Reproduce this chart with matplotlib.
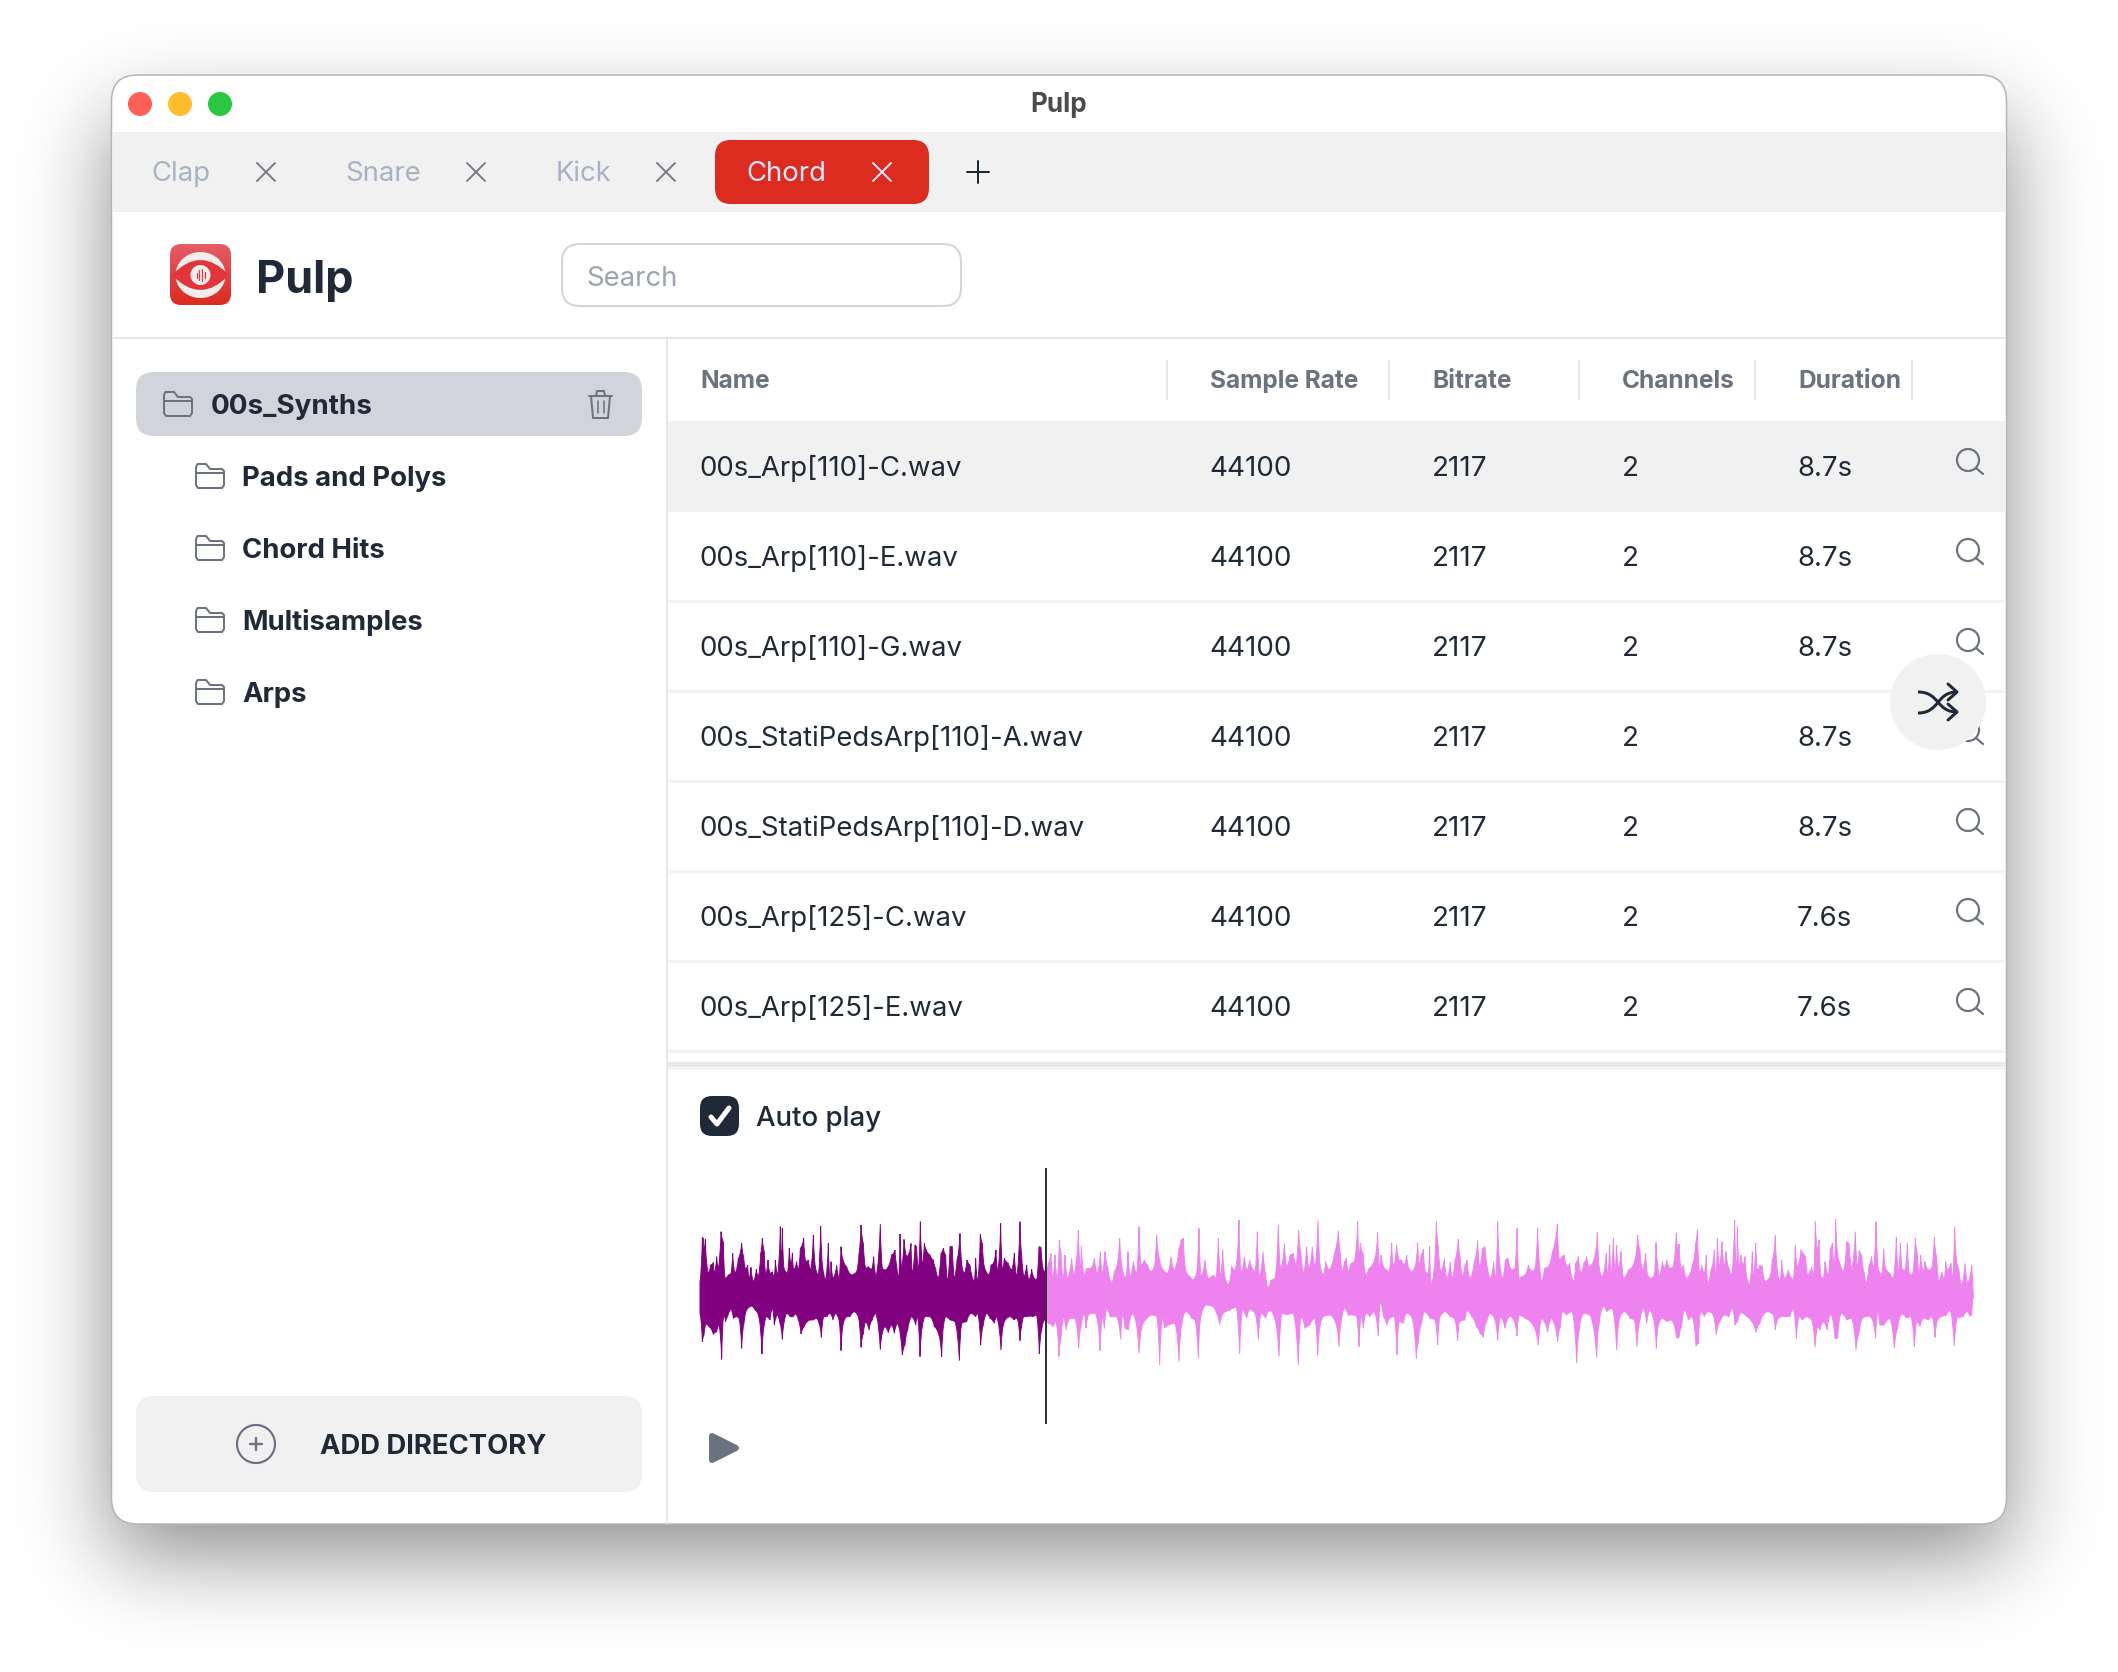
import math
import numpy as np
import matplotlib
matplotlib.use('Agg')
import matplotlib.pyplot as plt
from matplotlib.patches import FancyBboxPatch, Circle, Ellipse, Polygon, PathPatch, Rectangle
from matplotlib.path import Path

W, H = 2118, 1672
DPI = 100

plt.rcParams['font.family'] = ['Inter', 'DejaVu Sans']

tab_names = ['Clap', 'Snare', 'Kick', 'Chord']
folder_names = ['Pads and Polys', 'Chord Hits', 'Multisamples', 'Arps']
column_names = ['Name', 'Sample Rate', 'Bitrate', 'Channels', 'Duration']
file_names = ['00s_Arp[110]-C.wav', '00s_Arp[110]-E.wav', '00s_Arp[110]-G.wav',
              '00s_StatiPedsArp[110]-A.wav', '00s_StatiPedsArp[110]-D.wav',
              '00s_Arp[125]-C.wav', '00s_Arp[125]-E.wav']
sample_rates = [44100, 44100, 44100, 44100, 44100, 44100, 44100]
bitrates = [2117, 2117, 2117, 2117, 2117, 2117, 2117]
channels = [2, 2, 2, 2, 2, 2, 2]
durations = ['8.7s', '8.7s', '8.7s', '8.7s', '8.7s', '7.6s', '7.6s']

# waveform envelope: time and level per stretch of the clip
seg1_up_t = [15, 22, 25, 28, 31, 35, 40, 47, 55, 58, 65, 70, 78, 85, 90, 100, 108, 113, 120, 130, 140, 146, 152, 158, 162, 168, 175, 184, 190, 197, 202, 208, 212, 219, 225, 232, 238, 241, 248, 256, 259, 262, 267, 277, 283, 288, 292, 296, 305, 310, 316, 326, 332, 340, 347, 355, 362, 370, 377, 383, 392, 400, 405, 408, 414, 425, 432, 438, 443, 455, 470, 485, 492, 498, 505, 512, 520, 530, 536, 543, 556, 562, 572, 590, 600, 605, 611, 615, 620, 627, 635, 642, 648, 652, 660, 665, 670, 676, 682, 688, 694, 705, 715, 722, 730, 738, 745, 752, 758, 765, 772, 778, 786, 795, 802, 808, 816, 825, 838, 842, 848, 856, 862, 868, 882, 888, 895, 903, 908, 917, 922, 928, 940, 950, 958, 965]
seg1_up_y = [215, 82, 85, 120, 88, 155, 190, 165, 158, 190, 140, 175, 65, 95, 205, 195, 190, 130, 190, 145, 100, 140, 178, 165, 205, 172, 215, 178, 200, 130, 85, 125, 195, 150, 190, 185, 200, 150, 195, 50, 150, 55, 175, 190, 115, 165, 130, 180, 155, 180, 115, 85, 155, 150, 180, 75, 175, 195, 48, 170, 210, 100, 210, 155, 205, 165, 205, 110, 145, 170, 195, 185, 130, 45, 100, 175, 170, 178, 140, 200, 42, 175, 180, 135, 120, 165, 205, 72, 175, 88, 140, 130, 100, 190, 105, 110, 180, 35, 165, 100, 120, 135, 150, 175, 205, 130, 115, 135, 215, 110, 110, 205, 150, 70, 175, 190, 150, 165, 215, 145, 215, 72, 100, 170, 195, 165, 160, 120, 185, 40, 180, 145, 160, 180, 130, 200]
seg1_dn_t = [15, 22, 27, 33, 42, 55, 65, 72, 80, 86, 92, 98, 108, 115, 125, 132, 140, 147, 155, 170, 180, 190, 201, 207, 214, 225, 232, 238, 247, 255, 262, 268, 275, 285, 295, 302, 310, 318, 328, 337, 345, 355, 365, 372, 379, 386, 396, 405, 414, 422, 432, 438, 444, 455, 465, 478, 490, 498, 505, 512, 522, 532, 542, 556, 562, 570, 580, 590, 598, 608, 622, 630, 638, 650, 662, 668, 675, 682, 690, 705, 718, 730, 740, 746, 752, 765, 780, 793, 800, 815, 828, 842, 848, 857, 865, 875, 885, 898, 905, 918, 925, 935, 945, 957, 965]
seg1_dn_y = [310, 395, 375, 342, 350, 373, 365, 345, 448, 315, 335, 320, 298, 325, 320, 325, 415, 340, 300, 288, 300, 315, 432, 350, 320, 330, 295, 345, 315, 340, 388, 335, 310, 320, 320, 312, 330, 372, 350, 335, 330, 330, 325, 340, 382, 320, 320, 310, 330, 310, 330, 422, 345, 320, 320, 305, 320, 412, 372, 335, 360, 330, 310, 418, 370, 350, 368, 345, 370, 340, 435, 405, 360, 320, 345, 320, 440, 350, 320, 320, 350, 370, 440, 345, 320, 330, 335, 452, 340, 335, 310, 320, 310, 405, 345, 310, 325, 340, 320, 420, 345, 325, 320, 330, 325]

seg2_up_t = [15, 20, 27, 35, 42, 50, 58, 65, 72, 78, 85, 92, 100, 108, 113, 120, 127, 133, 138, 144, 150, 157, 170, 177, 184, 190, 196, 199, 207, 215, 228, 238, 248, 256, 262, 270, 278, 290, 298, 306, 314, 322, 332, 339, 345, 355, 365, 372, 378, 388, 398, 408, 418, 425, 432, 445, 458, 468, 478, 492, 498, 505, 512, 525, 535, 545, 552, 558, 570, 580, 595, 603, 610, 617, 623, 630, 640, 650, 660, 665, 672, 678, 688, 696, 704, 712, 720, 727, 733, 744, 752, 758, 768, 780, 790, 797, 808, 815, 825, 835, 843, 851, 858, 865, 875, 882, 892, 900, 909, 916, 925, 932, 942, 950, 958]
seg2_up_y = [35, 135, 200, 165, 210, 178, 205, 210, 110, 112, 180, 185, 160, 130, 205, 135, 205, 90, 130, 205, 135, 205, 145, 195, 150, 60, 180, 110, 195, 175, 175, 145, 190, 125, 190, 125, 170, 220, 185, 165, 85, 175, 205, 125, 200, 155, 190, 50, 165, 150, 165, 185, 170, 75, 140, 180, 190, 140, 180, 115, 90, 85, 180, 200, 210, 190, 55, 200, 150, 205, 195, 205, 85, 200, 120, 200, 225, 170, 180, 155, 30, 190, 140, 180, 150, 175, 185, 65, 200, 125, 190, 235, 210, 205, 45, 180, 100, 170, 135, 130, 165, 60, 130, 190, 110, 175, 110, 170, 32, 170, 195, 155, 180, 165, 130]
seg2_dn_t = [8, 15, 20, 26, 35, 45, 55, 65, 73, 80, 88, 100, 115, 123, 132, 138, 146, 153, 165, 180, 191, 198, 208, 213, 222, 240, 248, 255, 262, 268, 275, 285, 305, 317, 323, 330, 340, 352, 360, 372, 380, 392, 410, 425, 434, 442, 448, 462, 480, 492, 500, 512, 530, 540, 550, 556, 572, 590, 605, 614, 625, 645, 664, 674, 682, 695, 705, 720, 730, 738, 752, 765, 780, 792, 800, 815, 835, 850, 858, 870, 885, 900, 908, 916, 925, 945, 962]
seg2_dn_y = [330, 392, 350, 320, 320, 318, 320, 315, 432, 360, 330, 340, 350, 335, 440, 385, 322, 360, 325, 325, 415, 350, 310, 355, 312, 310, 335, 422, 320, 355, 295, 320, 320, 388, 312, 355, 360, 310, 325, 430, 355, 330, 315, 318, 465, 320, 355, 345, 340, 455, 345, 305, 325, 330, 445, 330, 285, 288, 310, 345, 310, 300, 292, 432, 300, 325, 298, 310, 388, 310, 325, 300, 330, 440, 310, 315, 310, 465, 320, 355, 345, 325, 435, 345, 320, 315, 340]

seg3_up_t = [10, 16, 22, 28, 34, 40, 48, 58, 68, 72, 76, 84, 92, 102, 112, 120, 128, 134, 138, 146, 155, 162, 170, 175, 185, 192, 200, 208, 215, 222, 230, 240, 248, 253, 258, 265, 271, 280, 284, 288, 296, 304, 310, 317, 328, 336, 346, 352, 360, 370, 376, 382, 390, 396, 405, 418, 428, 434, 442, 450, 458, 466, 476, 482, 488, 494, 503, 511, 519, 530, 540, 546, 552, 560, 570, 580, 592, 600, 608, 614, 620, 628, 640, 652, 660, 667, 673, 680, 688, 696, 704, 716, 722, 730, 738, 746, 755, 762, 772, 780, 787, 794, 802, 814, 818, 824, 828, 835, 840, 845, 850, 858, 866, 880, 888, 898, 908, 915, 922, 932, 938, 948, 958]
seg3_up_y = [62, 130, 185, 155, 145, 185, 160, 155, 35, 140, 100, 130, 195, 175, 165, 145, 68, 175, 135, 170, 180, 185, 100, 170, 105, 150, 150, 165, 135, 175, 185, 170, 98, 165, 135, 118, 185, 190, 108, 225, 190, 35, 110, 185, 145, 205, 155, 205, 150, 88, 145, 200, 165, 150, 205, 155, 92, 170, 115, 110, 175, 205, 155, 205, 35, 155, 205, 150, 145, 180, 175, 55, 205, 200, 195, 165, 185, 175, 55, 165, 215, 175, 170, 125, 95, 42, 150, 140, 135, 170, 160, 215, 160, 140, 190, 160, 140, 170, 160, 135, 68, 180, 200, 130, 195, 105, 190, 85, 180, 105, 175, 125, 205, 180, 175, 155, 75, 120, 180, 130, 195, 205, 195]
seg3_dn_t = [12, 18, 28, 40, 55, 65, 72, 78, 85, 93, 105, 118, 130, 136, 145, 155, 168, 178, 186, 192, 205, 215, 230, 244, 250, 260, 268, 285, 300, 308, 315, 330, 345, 358, 368, 374, 390, 396, 410, 424, 435, 445, 455, 466, 478, 488, 496, 510, 525, 538, 546, 552, 570, 590, 610, 620, 638, 650, 668, 676, 682, 695, 712, 725, 732, 745, 765, 785, 792, 805, 815, 832, 845, 855, 868, 885, 898, 906, 915, 925, 935, 945, 955]
seg3_dn_y = [410, 340, 295, 315, 315, 320, 410, 320, 355, 310, 320, 305, 378, 275, 320, 345, 322, 320, 435, 335, 340, 310, 320, 445, 395, 340, 305, 325, 330, 405, 320, 305, 320, 325, 392, 335, 330, 302, 320, 350, 370, 382, 335, 310, 325, 392, 320, 355, 318, 335, 378, 315, 325, 340, 405, 325, 365, 325, 395, 350, 305, 315, 305, 458, 365, 310, 315, 442, 345, 288, 305, 295, 420, 320, 305, 325, 330, 410, 330, 295, 340, 300, 325]

seg4_up_t = [3, 8, 12, 22, 28, 35, 45, 54, 64, 70, 72, 78, 85, 95, 105, 112, 122, 127, 134, 140, 148, 154, 158, 168, 178, 183, 187, 193, 201, 208, 213, 222, 230, 239, 244, 247, 252, 258, 264, 270, 276, 284, 292, 296, 302, 308, 314, 322, 330, 345, 352, 361, 367, 375, 380, 388, 400, 410, 415, 421, 426, 432, 438, 445, 452, 458, 470, 476, 481, 487, 492, 498, 505, 510, 520, 526, 532, 538, 542, 548, 555, 565, 575, 582, 590, 601, 607, 613, 620, 628, 634, 642, 650, 656, 663, 670, 680, 686, 692, 705, 715, 724, 730, 736, 742, 750, 757, 763, 772, 781, 787, 792, 797, 804, 810, 820, 830, 838, 845, 852, 860, 868, 872, 878, 888, 893, 899, 905, 912, 920, 930, 938, 950, 953, 955]
seg4_up_y = [98, 160, 200, 155, 175, 150, 175, 170, 68, 130, 102, 175, 165, 205, 190, 165, 100, 60, 190, 165, 190, 135, 222, 180, 120, 200, 85, 170, 95, 170, 125, 175, 195, 30, 190, 50, 170, 135, 165, 140, 205, 225, 125, 205, 100, 185, 165, 170, 215, 200, 150, 75, 180, 215, 150, 205, 180, 205, 210, 105, 170, 155, 120, 130, 140, 195, 170, 195, 35, 120, 90, 200, 205, 155, 195, 115, 100, 170, 28, 130, 160, 185, 95, 100, 175, 65, 170, 120, 135, 190, 220, 165, 140, 175, 35, 175, 195, 118, 175, 190, 205, 82, 190, 100, 180, 180, 100, 190, 195, 85, 130, 190, 135, 185, 155, 180, 175, 82, 140, 215, 185, 205, 155, 180, 160, 205, 52, 150, 180, 225, 160, 220, 165, 200, 255]
seg4_dn_t = [4, 10, 20, 35, 50, 65, 72, 80, 88, 100, 112, 123, 130, 137, 148, 158, 172, 184, 195, 208, 222, 233, 240, 248, 258, 275, 290, 303, 315, 325, 338, 355, 361, 370, 380, 390, 405, 415, 424, 432, 442, 455, 470, 480, 488, 495, 505, 516, 528, 540, 548, 558, 575, 590, 603, 612, 622, 640, 650, 662, 668, 675, 688, 705, 718, 728, 740, 755, 768, 778, 785, 795, 805, 820, 832, 840, 848, 860, 875, 885, 898, 906, 925, 935, 945, 950, 955]
seg4_dn_y = [415, 345, 325, 335, 330, 385, 382, 350, 300, 330, 320, 408, 400, 305, 320, 305, 310, 375, 335, 315, 320, 295, 345, 335, 308, 320, 335, 368, 340, 315, 305, 315, 360, 325, 320, 320, 320, 296, 385, 320, 330, 320, 330, 412, 350, 360, 335, 360, 312, 385, 385, 310, 330, 325, 420, 372, 325, 318, 325, 385, 305, 345, 345, 325, 415, 355, 312, 325, 320, 410, 335, 350, 325, 330, 320, 382, 330, 320, 315, 300, 408, 325, 320, 305, 318, 315, 260]

playhead_t = 1053
SEG_LEN = 960
WAVE_MID = 255


def px(v):
    return v * 72.0 / DPI


def label(ax, x, y, s, size, color, weight='normal', ha='left', zorder=5):
    ax.text(x, y, s, fontsize=px(size), color=color, fontweight=weight, ha=ha, va='baseline', zorder=zorder)


def box(ax, x0, y0, x1, y1, r, fc, ec='none', lw=0, zorder=2):
    p = FancyBboxPatch((x0 + r, y0 + r), x1 - x0 - 2 * r, y1 - y0 - 2 * r, boxstyle='round,pad=%f,rounding_size=%f' % (r, r),
                       fc=fc, ec=ec, lw=px(lw), zorder=zorder)
    ax.add_patch(p)
    return p


def stroke(ax, xs, ys, color, lw=2, zorder=4):
    ax.plot(xs, ys, color=color, lw=px(lw), solid_capstyle='round', solid_joinstyle='round', zorder=zorder)


def rule(ax, xs, ys, color, lw=2):
    ax.plot(xs, ys, color=color, lw=px(lw), solid_capstyle='butt', zorder=2)


def cross(ax, x, y, color, half=9):
    stroke(ax, [x - half, x + half], [y - half, y + half], color)
    stroke(ax, [x - half, x + half], [y + half, y - half], color)


def folder(ax, x, y, color='#6b7280'):
    verts = [(x, y + 3), (x + 1.5, y), (x + 10, y), (x + 14, y + 5), (x + 26, y + 5), (x + 28, y + 7), (x + 28, y + 21),
             (x + 26, y + 24), (x + 2, y + 24), (x, y + 21), (x, y + 3)]
    ax.add_patch(Polygon(verts, closed=True, fc='none', ec=color, lw=px(2), joinstyle='round', zorder=4))
    stroke(ax, [x, x + 28], [y + 9, y + 9], color)


def magnifier(ax, x, y, color='#6b7280', zorder=4):
    ax.add_patch(Circle((x, y), 11, fc='none', ec=color, lw=px(2.2), zorder=zorder))
    stroke(ax, [x + 8, x + 15], [y + 8, y + 14], color, 2.2, zorder)


def envelope_curves(ts, ys):
    # each edge bends a little towards the quieter end, so spikes stay thin
    verts, codes = [], []
    for i in range(len(ts) - 1):
        t0, y0, t1, y1 = ts[i], ys[i], ts[i + 1], ys[i + 1]
        if abs(y0 - WAVE_MID) > abs(y1 - WAVE_MID):
            ctrl = (t0 + (t1 - t0) * 0.3, y0 + (y1 - y0) * 0.8)
        else:
            ctrl = (t1 - (t1 - t0) * 0.3, y1 + (y0 - y1) * 0.8)
        verts += [ctrl, (t1, y1)]
        codes += [Path.CURVE3, Path.CURVE3]
    return verts, codes


fig = plt.figure(figsize=(W / DPI, H / DPI), dpi=DPI)
ax = fig.add_axes([0, 0, 1, 1])
ax.set_xlim(0, W)
ax.set_ylim(H, 0)
ax.axis('off')

# window drop shadow behind everything
erf = np.vectorize(math.erf)
xx = np.arange(W)
yy = np.arange(H)
sig = 62.0
ax_x = 0.5 * (erf((xx - 111) / sig) - erf((xx - 2006) / sig))
ax_y = 0.5 * (erf((yy - 118) / sig) - erf((yy - 1554) / sig))
shadow = 1.0 - 0.46 * np.outer(ax_y, ax_x)
ax.imshow(shadow, cmap='gray', vmin=0, vmax=1, extent=(0, W, H, 0), aspect='auto', zorder=0)
ax.set_xlim(0, W)
ax.set_ylim(H, 0)

box(ax, 111.5, 75, 2006.5, 1524, 26, 'white', '#b4b4b4', 1.5, zorder=1)

# title and tabs
for x, c in zip([140, 180, 220], ['#fe5f57', '#febc2e', '#28c840']):
    ax.add_patch(Ellipse((x, 104), 24, 24, fc=c, ec='none', zorder=3))
label(ax, 1059, 112, 'Pulp', 26, '#4b4b4b', 'bold', ha='center')
ax.add_patch(Rectangle((112.5, 132), 1893, 80, fc='#f1f1f1', ec='none', zorder=2))
tab_x = [151.5, 345, 556, 746]
cross_x = [266, 476, 666, 882]
box(ax, 715, 140, 929, 204, 16, '#dc2b1f', zorder=3)
for i in range(len(tab_names)):
    active = tab_names[i] == 'Chord'
    label(ax, tab_x[i], 181, tab_names[i], 27.5, '#e5e7ff' if active else '#a9b2c3')
    cross(ax, cross_x[i], 172, '#e5e7ff' if active else '#7b8088')
stroke(ax, [967, 989], [172, 172], '#1f2937')
stroke(ax, [978, 978], [161, 183], '#1f2937')

# logo and search
logo = box(ax, 170, 244, 231, 305, 11, 'none', zorder=3)
grad = ax.imshow(np.linspace(0, 1, 64).reshape(-1, 1), cmap=matplotlib.colors.LinearSegmentedColormap.from_list('lg', ['#e35d68', '#dc2b1f']),
                 extent=(170, 231, 305, 244), aspect='auto', zorder=3)
grad.set_clip_path(logo)
ax.set_xlim(0, W)
ax.set_ylim(H, 0)
ax.add_patch(Ellipse((200.5, 275), 50, 46, fc='#f3ecec', ec='none', zorder=4))
lens = Path([(172, 275), (200.5, 245), (229, 275), (200.5, 305), (172, 275)],
            [Path.MOVETO, Path.CURVE3, Path.CURVE3, Path.CURVE3, Path.CURVE3])
ax.add_patch(PathPatch(lens, fc='#e0353a', ec='none', zorder=4))
ax.add_patch(Circle((200.5, 275), 10, fc='#f3ecec', ec='none', zorder=4))
for dx, hh in zip([-4, -1.3, 1.3, 4], [2.5, 5, 6, 3]):
    stroke(ax, [200.5 + dx, 200.5 + dx], [275 - hh, 275 + hh], '#dc3a3f', 1.2, zorder=5)
label(ax, 256, 293, 'Pulp', 45, '#1f2937', 'bold')
box(ax, 562, 244, 961, 306, 18, 'white', '#d1d5db', 2)
label(ax, 586, 286, 'Search', 27.5, '#9ca3af')

rule(ax, [112, 2006], [338, 338], '#e5e7eb')
rule(ax, [667, 667], [338, 1524], '#e5e7eb')

# sidebar
box(ax, 136, 372, 642, 436, 18, '#d1d5db')
folder(ax, 164, 392)
label(ax, 210.5, 414, '00s_Synths', 27.8, '#1f2937', 'bold')
stroke(ax, [589, 612], [396, 396], '#6b7280')
stroke(ax, [596, 597, 604, 605], [396, 391, 391, 396], '#6b7280')
ax.add_patch(Polygon([(591, 396), (593, 418), (608, 418), (610, 396)], closed=True, fc='none', ec='#6b7280', lw=px(2), joinstyle='round', zorder=4))
stroke(ax, [597.5, 597.5], [401, 413], '#6b7280', 1.6)
stroke(ax, [603.5, 603.5], [401, 413], '#6b7280', 1.6)
for i in range(len(folder_names)):
    folder(ax, 196, 464 + 72 * i)
    label(ax, 242.5, 486 + 72 * i, folder_names[i], 27.5, '#1f2937', 'bold')

box(ax, 136, 1396, 642, 1492, 18, '#f1f1f1')
ax.add_patch(Circle((256, 1444), 19, fc='none', ec='#6b7280', lw=px(2.2), zorder=4))
stroke(ax, [250, 262], [1444, 1444], '#6b7280', 2.4)
stroke(ax, [256, 256], [1438, 1450], '#6b7280', 2.4)
label(ax, 319.5, 1454, 'ADD DIRECTORY', 27.5, '#1f2937', 'bold')

# table
col_x = [700, 1210, 1432, 1622, 1798]
for x, name in zip(col_x, column_names):
    label(ax, x, 388, name, 24.5, '#6b7280', 'bold')
for x in [1167, 1389, 1579, 1755, 1912]:
    rule(ax, [x, x], [360, 400], '#e5e7eb')
ax.add_patch(Rectangle((668, 421), 1338, 91, fc='#f1f1f1', ec='none', zorder=2))
for i in range(len(file_names)):
    base = 476 + 90 * i
    label(ax, 699.5, base, file_names[i], 27.6, '#1f2937')
    label(ax, col_x[1] - 0.5, base, str(sample_rates[i]), 27.8, '#1f2937')
    label(ax, col_x[2], base, str(bitrates[i]), 27.8, '#1f2937')
    label(ax, col_x[3], base, str(channels[i]), 27.8, '#1f2937')
    label(ax, col_x[4] - 1, base, durations[i], 27.6, '#1f2937')
    magnifier(ax, 1968, 460 + 90 * i)
    if i > 0:
        rule(ax, [668, 2005], [511 + 90 * i, 511 + 90 * i], '#f1f1f1', 2.5)
for k, a in enumerate([0.12, 0.09, 0.065, 0.045, 0.03, 0.015]):
    rule(ax, [668, 2005], [1063 + k * 1.5, 1063 + k * 1.5], (0, 0, 0, a), 1.5)

# shuffle button
ax.add_patch(Circle((1938, 702), 48, fc='#f1f1f1', ec='none', zorder=6))
for ya, yb in [(692, 712), (713, 692)]:
    verts = [(1918, ya), (1940, ya), (1936, yb), (1957, yb)]
    ax.add_patch(PathPatch(Path(verts, [Path.MOVETO, Path.CURVE4, Path.CURVE4, Path.CURVE4]), fc='none', ec='#1f2937', lw=px(3), zorder=7))
stroke(ax, [1948, 1957, 1948], [684, 692, 700], '#1f2937', 3, 7)
stroke(ax, [1948, 1957, 1948], [704, 712, 720], '#1f2937', 3, 7)

# auto play
box(ax, 700, 1096, 739, 1136, 12, '#1f2937', zorder=3)
stroke(ax, [711, 717, 729], [1117, 1124, 1108], 'white', 5)
label(ax, 756, 1126, 'Auto play', 27.6, '#1f2937', 'medium')

# waveform
ax_wave = fig.add_axes([695 / W, 1 - 1380 / H, 1330 / W, 170 / H])
ax_wave.set_xlim(0, 3990)
ax_wave.set_ylim(510, 0)
ax_wave.axis('off')
up_t = np.concatenate([seg1_up_t, np.add(seg2_up_t, SEG_LEN), np.add(seg3_up_t, 2 * SEG_LEN), np.add(seg4_up_t, 3 * SEG_LEN)])
up_y = np.concatenate([seg1_up_y, seg2_up_y, seg3_up_y, seg4_up_y])
dn_t = np.concatenate([seg1_dn_t, np.add(seg2_dn_t, SEG_LEN), np.add(seg3_dn_t, 2 * SEG_LEN), np.add(seg4_dn_t, 3 * SEG_LEN)])
dn_y = np.concatenate([seg1_dn_y, seg2_dn_y, seg3_dn_y, seg4_dn_y])

top_verts, top_codes = envelope_curves(up_t, up_y)
low_verts, low_codes = envelope_curves(dn_t[::-1], dn_y[::-1])
outline = Path([(up_t[0], up_y[0])] + top_verts + [(dn_t[-1], dn_y[-1])] + low_verts + [(up_t[0], up_y[0])],
               [Path.MOVETO] + top_codes + [Path.LINETO] + low_codes + [Path.LINETO])
played = PathPatch(outline, fc='#800080', ec='#800080', lw=px(0.9), joinstyle='miter')
ax_wave.add_patch(played)
played.set_clip_path(Rectangle((0, 0), playhead_t, 510, transform=ax_wave.transData))
rest = PathPatch(outline, fc='#ee82ee', ec='#ee82ee', lw=px(0.9), joinstyle='miter')
ax_wave.add_patch(rest)
rest.set_clip_path(Rectangle((playhead_t, 0), 3990 - playhead_t, 510, transform=ax_wave.transData))

ax_top = fig.add_axes([0, 0, 1, 1])
ax_top.set_xlim(0, W)
ax_top.set_ylim(H, 0)
ax_top.axis('off')
ax_top.patch.set_alpha(0)
rule(ax_top, [1046, 1046], [1168, 1424], '#333333')
ax_top.add_patch(Polygon([(712, 1436), (736, 1448), (712, 1460)], closed=True, fc='#6b7280', ec='#6b7280', lw=px(6), joinstyle='round'))

fig.savefig('out.png', dpi=DPI)
